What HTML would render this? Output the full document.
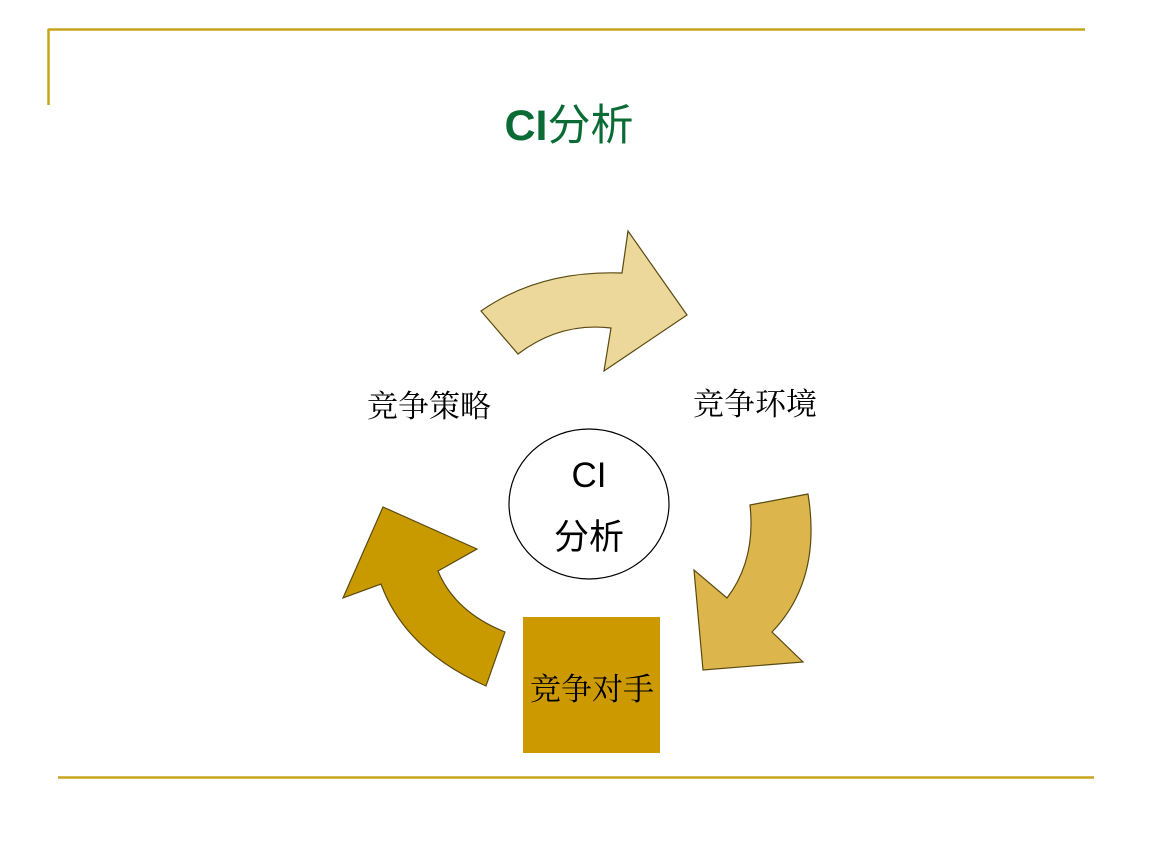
<!DOCTYPE html>
<html><head><meta charset="utf-8"><style>
html,body{margin:0;padding:0;background:#fff;}
svg{display:block;}
</style></head><body>
<svg width="1152" height="864" viewBox="0 0 1152 864" xmlns="http://www.w3.org/2000/svg">
<rect width="1152" height="864" fill="#fff"/>
<line x1="48" y1="29.5" x2="1085" y2="29.5" stroke="#c8a41e" stroke-width="2.5"/>
<line x1="48.5" y1="29" x2="48.5" y2="105" stroke="#c8a41e" stroke-width="2.5"/>
<line x1="58" y1="777.5" x2="1094" y2="777.5" stroke="#c8a41e" stroke-width="2.5"/>
<text x="569" y="140" text-anchor="middle" font-family="'Liberation Sans','Noto Sans CJK SC',sans-serif" font-size="43" fill="#0a6b35"><tspan font-weight="bold">CI</tspan>分析</text>

<path d="M481,311 Q540,270 622,273 L628,231 L687,315 L604,371 L611,328 Q560,322 518,354 Z" fill="#ecd89b" stroke="#5a4a10" stroke-width="1.2"/>
<path d="M750,505 L808,494 Q822,580 772,632 L803,662 L703,670 L694,570 L727,598 Q756,560 750,505 Z" fill="#dcb64c" stroke="#5a4a10" stroke-width="1.2"/>
<path d="M343,598 L383,507 L477,549 L438,571 Q455,612 505,632 L486,686 Q405,650 381,584 Z" fill="#c99a00" stroke="#5a4a10" stroke-width="1.2"/>

<ellipse cx="589" cy="504" rx="80" ry="75" fill="#fff" stroke="#000" stroke-width="1.2"/>
<text x="589" y="487" text-anchor="middle" font-family="'Liberation Sans',sans-serif" font-size="35" fill="#000">CI</text>
<text x="589" y="549" text-anchor="middle" font-family="'Liberation Sans','Noto Sans CJK SC',sans-serif" font-size="35" fill="#000">分析</text>

<rect x="523" y="617" width="137" height="136" fill="#cc9900"/>
<text x="592" y="700" text-anchor="middle" font-family="'Noto Serif CJK SC','Noto Sans CJK SC',serif" font-size="31" fill="#000">竞争对手</text>

<text x="429" y="417" text-anchor="middle" font-family="'Noto Serif CJK SC','Noto Sans CJK SC',serif" font-size="31" fill="#000">竞争策略</text>
<text x="755" y="415" text-anchor="middle" font-family="'Noto Serif CJK SC','Noto Sans CJK SC',serif" font-size="31" fill="#000">竞争环境</text>
</svg>
</body></html>
